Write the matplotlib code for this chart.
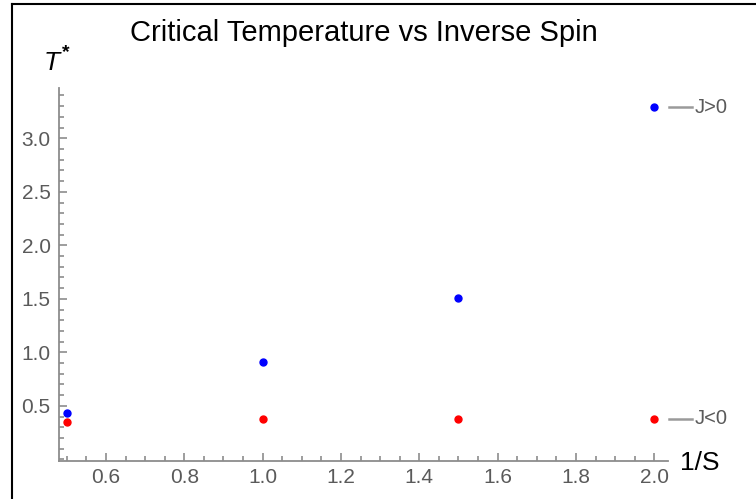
import matplotlib
matplotlib.use("Agg")
import matplotlib.pyplot as plt
from matplotlib.ticker import MultipleLocator
from matplotlib.transforms import offset_copy

plt.rcParams["font.family"] = ["Liberation Sans", "DejaVu Sans"]

# data
inv_spin = [0.5, 1.0, 1.5, 2.0]
t_pos = [0.434, 0.91, 1.51, 3.29]   # J>0
t_neg = [0.35, 0.38, 0.38, 0.38]    # J<0
series_labels = ["J>0", "J<0"]

axis_grey = "#8c8c8c"
text_grey = "#5a5a5a"

fig = plt.figure(figsize=(7.56, 4.99), dpi=100)
ax = fig.add_axes([59 / 756, 1 - 461 / 499, 609 / 756, 373 / 499])

ax.plot(inv_spin, t_pos, "o", color="#0000ff", ms=5, clip_on=False)
ax.plot(inv_spin, t_neg, "o", color="#ff0000", ms=5, clip_on=False)

ax.set_xlim(0.48, 2.035)
ax.set_ylim(-0.015, 3.47)

# only left and bottom axes, ticks pointing in
for s in ["top", "right"]:
    ax.spines[s].set_visible(False)
for s in ["left", "bottom"]:
    ax.spines[s].set_color(axis_grey)
    ax.spines[s].set_linewidth(1.3)

ax.xaxis.set_minor_locator(MultipleLocator(0.05))
ax.yaxis.set_minor_locator(MultipleLocator(0.1))
ax.set_xticks([0.6, 0.8, 1.0, 1.2, 1.4, 1.6, 1.8, 2.0])
ax.set_yticks([0.5, 1.0, 1.5, 2.0, 2.5, 3.0])
ax.xaxis.set_major_formatter(lambda v, p: f"{v:.1f}")
ax.yaxis.set_major_formatter(lambda v, p: f"{v:.1f}")

ax.tick_params(which="both", direction="in", color=axis_grey, width=1.2)
ax.tick_params(which="major", length=6, labelsize=15, labelcolor=text_grey)
ax.tick_params(axis="x", which="major", pad=5)
ax.tick_params(axis="y", which="major", pad=6)
ax.tick_params(which="minor", length=3.5)

ax.set_title("Critical Temperature vs Inverse Spin", fontsize=21, pad=34)

# axis labels, placed like mathematica's AxesLabel
fig.text(52 / 756, 1 - 63 / 499, "T", fontsize=19, style="italic",
         ha="center", va="center")
fig.text(66 / 756, 1 - 53 / 499, "*", fontsize=14, fontweight="bold",
         ha="center", va="center")
ax.text(1.02, -0.005, "1/S", transform=ax.transAxes, fontsize=19,
        ha="left", va="center")

# labels at the end of each series
inv = fig.transFigure.inverted()
for ys, lab in zip([t_pos, t_neg], series_labels):
    x0, y0 = inv_spin[-1], ys[-1]
    tr_a = offset_copy(ax.transData, fig=fig, x=15, y=0, units="dots")
    tr_b = offset_copy(ax.transData, fig=fig, x=38, y=0, units="dots")
    fa = inv.transform(tr_a.transform((x0, y0)))
    fb = inv.transform(tr_b.transform((x0, y0)))
    fig.add_artist(plt.Line2D([fa[0], fb[0]], [fa[1], fb[1]],
                              color="#9a9a9a", lw=1.8))
    tr_t = offset_copy(ax.transData, fig=fig, x=40, y=0, units="dots")
    ax.text(x0, y0, lab, transform=tr_t, fontsize=14.5, color=text_grey,
            ha="left", va="center", clip_on=False)

# frame lines of the screenshot (left and top edges)
fig.add_artist(plt.Line2D([12 / 756, 12 / 756], [0, 1 - 4 / 499], color="black", lw=1.5))
fig.add_artist(plt.Line2D([12 / 756, 1], [1 - 4 / 499, 1 - 4 / 499], color="black", lw=1.5))

fig.savefig("out.png", dpi=100)
